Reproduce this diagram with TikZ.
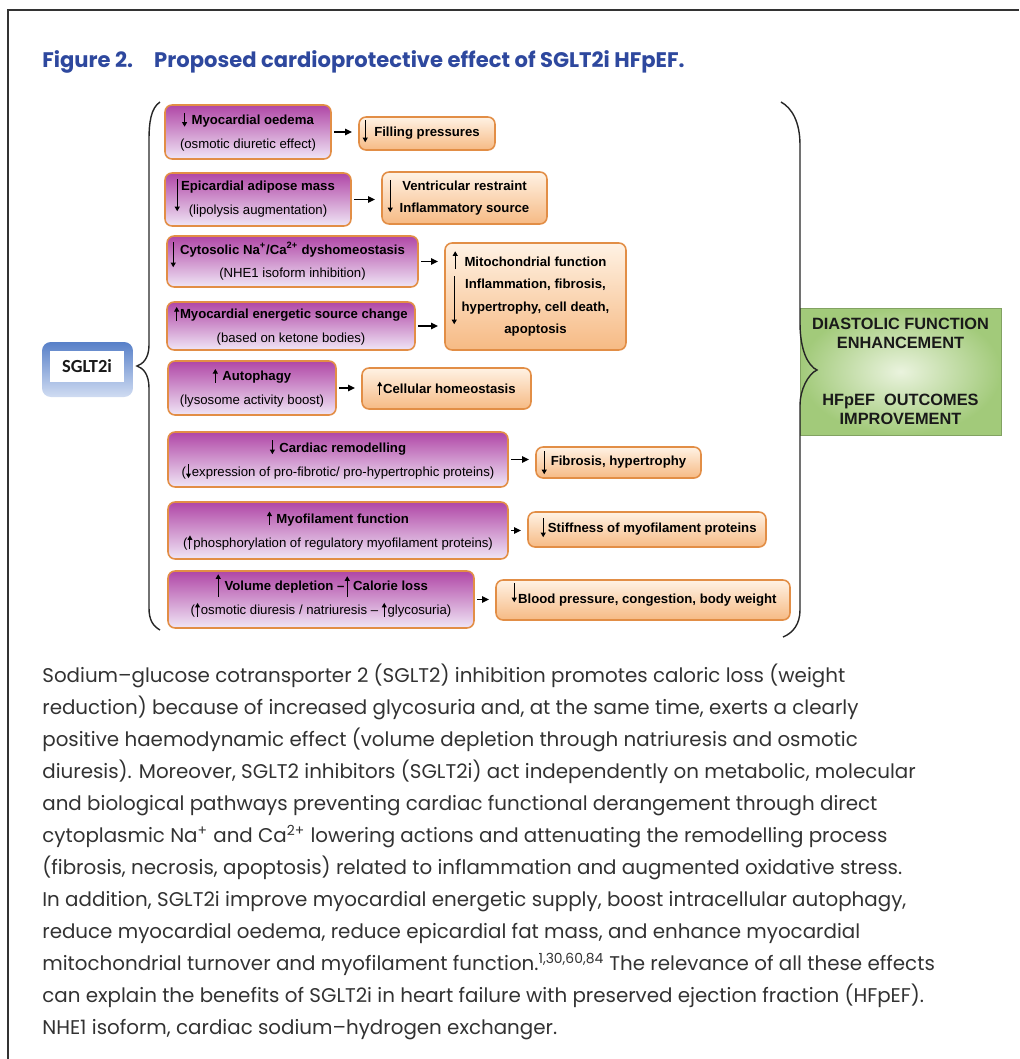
\documentclass[tikz,border=0pt]{standalone}
\usepackage{fontspec}
\setmainfont{Poppins}
\setsansfont{Liberation Sans}
\newfontfamily\calfont{Carlito}
\usepackage{xcolor}
\usetikzlibrary{arrows.meta, positioning}
\definecolor{titleblue}{RGB}{46,72,158}
\definecolor{bodygray}{RGB}{50,50,50}
\definecolor{purptop}{RGB}{176,70,166}
\definecolor{purpbot}{RGB}{240,230,246}
\definecolor{orngtop}{RGB}{255,242,228}
\definecolor{orngbot}{RGB}{246,186,132}
\definecolor{orngedge}{RGB}{226,142,70}
\definecolor{greenlite}{RGB}{234,243,222}
\definecolor{greendark}{RGB}{162,202,122}
\definecolor{blutop}{RGB}{88,128,200}
\definecolor{blubot}{RGB}{208,220,242}

\tikzset{
  glyph arrow/.style={line width=0.6pt, -{Triangle[length=2.6pt,width=2.8pt]}},
  link/.style={line width=0.8pt, -{Triangle[length=4pt,width=3.6pt]}, shorten <=1.5pt, shorten >=3.5pt},
}
\newcommand{\dnar}{\tikz[baseline=0pt]\draw[glyph arrow] (0,6.8pt) -- (0,-1pt);\kern0.5pt}
\newcommand{\upar}{\tikz[baseline=0pt]\draw[glyph arrow] (0,-1pt) -- (0,6.8pt);\kern0.5pt}

\begin{document}
\begin{tikzpicture}[x=0.02cm, y=-0.02cm,
    effect/.style={draw=orngedge, line width=0.9pt, rounded corners=4pt, top color=purptop, bottom color=purpbot, inner sep=0pt, align=center, font=\sffamily\bfseries\fontsize{7.5}{13.6}\selectfont},
    outcome/.style={draw=orngedge, line width=0.9pt, rounded corners=4pt, top color=orngtop, bottom color=orngbot, inner sep=0pt, align=center, font=\sffamily\bfseries\fontsize{7.5}{12.8}\selectfont},
    brace/.style={line width=0.8pt, black!85}]
    \useasboundingbox (0,0) rectangle (1019,1059);
    \draw[line width=1.1pt, black!80] (8,1059) -- (8,10) -- (1019,10);

    \node (title) [anchor=west, inner sep=0pt, text=titleblue, font=\bfseries\fontsize{12}{14}\selectfont] at (42,62) {Figure 2.\hspace{12pt}Proposed cardioprotective effect of SGLT2i HFpEF.};

    % left column
    \node (oedema) [effect, minimum width=3.32cm, minimum height=1.08cm] at (248,132) {\dnar\ Myocardial oedema\\\mdseries(osmotic diuretic effect)};
    \node (adipose) [effect, minimum width=3.72cm, minimum height=1.06cm] at (258,199.5) {Epicardial adipose mass\\\mdseries(lipolysis augmentation)};
    \node (cytosol) [effect, minimum width=5.02cm, minimum height=1.02cm] at (292.5,261.5) {Cytosolic Na\textsuperscript{+}/Ca\textsuperscript{2+} dyshomeostasis\\\mdseries(NHE1 isoform inhibition)};
    \node (energy) [effect, minimum width=4.96cm, minimum height=0.96cm] at (291,326) {\upar Myocardial energetic source change\\\mdseries(based on ketone bodies)};
    \node (autophagy) [effect, minimum width=3.36cm, minimum height=1.08cm] at (252,388) {\upar\ Autophagy\\\mdseries(lysosome activity boost)};
    \node (remodel) [effect, minimum width=6.80cm, minimum height=1.10cm] at (338,459.5) {\dnar\ Cardiac remodelling\\\mdseries(\dnar expression of pro-fibrotic/ pro-hypertrophic proteins)};
    \node (myofil) [effect, minimum width=6.80cm, minimum height=1.14cm] at (338,530.5) {\upar\ Myofilament function\\\mdseries(\upar phosphorylation of regulatory myofilament proteins)};
    \node (volume) [effect, minimum width=6.12cm, minimum height=1.14cm] at (321,599.5) {\hspace{6pt}Volume depletion --\hspace{5pt}Calorie loss\\\mdseries(\upar osmotic diuresis / natriuresis -- \upar glycosuria)};

    % right column
    \node (filling) [outcome, minimum width=2.72cm, minimum height=0.66cm] at (427,133.5) {Filling pressures};
    \node (restraint) [outcome, minimum width=3.30cm, minimum height=1.04cm] at (464.5,198) {Ventricular restraint\\Inflammatory source};
    \node (mito) [outcome, minimum width=3.62cm, minimum height=2.14cm] at (535.5,296.5) {Mitochondrial function\\Inflammation, fibrosis,\\hypertrophy, cell death,\\apoptosis};
    \node (homeo) [outcome, minimum width=3.38cm, minimum height=0.82cm] at (446.5,388.5) {\upar Cellular homeostasis};
    \node (fibrosis) [outcome, minimum width=3.30cm, minimum height=0.62cm] at (618.5,462.5) {Fibrosis, hypertrophy};
    \node (stiffness) [outcome, minimum width=4.76cm, minimum height=0.70cm] at (647,529.5) {\hspace{6pt}Stiffness of myofilament proteins};
    \node (pressure) [outcome, minimum width=5.88cm, minimum height=0.80cm] at (643,600) {\hspace{5pt}Blood pressure, congestion, body weight};

    % tall arrows inside boxes
    \draw[glyph arrow] ([shift={(13,7)}]adipose.north west) -- ([shift={(13,39)}]adipose.north west);
    \draw[glyph arrow] ([shift={(7,7)}]cytosol.north west) -- ([shift={(7,32)}]cytosol.north west);
    \draw[glyph arrow] ([shift={(51,27)}]volume.north west) -- ([shift={(51,4)}]volume.north west);
    \draw[glyph arrow] ([shift={(180,27)}]volume.north west) -- ([shift={(180,6)}]volume.north west);
    \draw[glyph arrow] ([shift={(7,4)}]filling.north west) -- ([shift={(7,26)}]filling.north west);
    \draw[glyph arrow] ([shift={(9,9)}]restraint.north west) -- ([shift={(9,41)}]restraint.north west);
    \draw[glyph arrow] ([shift={(11,27)}]mito.north west) -- ([shift={(11,9)}]mito.north west);
    \draw[glyph arrow] ([shift={(10,34)}]mito.north west) -- ([shift={(10,82)}]mito.north west);
    \draw[glyph arrow] ([shift={(9,5)}]fibrosis.north west) -- ([shift={(9,28)}]fibrosis.north west);
    \draw[glyph arrow] ([shift={(16,7)}]stiffness.north west) -- ([shift={(16,26)}]stiffness.north west);
    \draw[glyph arrow] ([shift={(19,4)}]pressure.north west) -- ([shift={(19,23)}]pressure.north west);

    % links
    \draw[link] (oedema.east) -- (oedema.east -| filling.west);
    \draw[link] (adipose.east) -- (adipose.east -| restraint.west);
    \draw[link] (cytosol.east) -- (cytosol.east -| mito.west);
    \draw[link] (energy.east) -- (energy.east -| mito.west);
    \draw[link] (autophagy.east) -- (autophagy.east -| homeo.west);
    \draw[link] (remodel.east) -- (remodel.east -| fibrosis.west);
    \draw[link] (myofil.east) -- (myofil.east -| stiffness.west);
    \draw[link] (volume.east) -- (volume.east -| pressure.west);

    % SGLT2i
    \node (sglt) [rounded corners=5pt, top color=blutop, bottom color=blubot, minimum width=1.82cm, minimum height=1.10cm] at (87.5,369.5) {};
    \node (sgltlabel) [fill=white, minimum width=1.48cm, minimum height=0.62cm, text=black!90, font=\calfont\bfseries\fontsize{10.5}{12}\selectfont] at (87,366.5) {SGLT2i};

    % outcomes
    \node (benefit) [draw=greendark!80!black, line width=0.4pt, inner color=greenlite, outer color=greendark, minimum width=4.02cm, minimum height=2.54cm, align=center, text=black!90, font=\sffamily\bfseries\fontsize{9.3}{10.8}\selectfont] at (900.5,371.5) {DIASTOLIC FUNCTION\\ENHANCEMENT\\[21.6pt]HFpEF\ \ OUTCOMES\\IMPROVEMENT};

    % braces
    \draw[brace] (160,102) .. controls (151,108) and (149,122) .. (149,140) -- (149,345) .. controls (149,358) and (143,364) .. (137,366) .. controls (143,368) and (149,374) .. (149,388) -- (149,608) .. controls (149,620) and (153,626) .. (160,630);
    \draw[brace] (781,102) .. controls (792,108) and (800,122) .. (800,145) -- (800,323) .. controls (800,350) and (808,366) .. (817,370) .. controls (808,374) and (800,390) .. (800,405) -- (800,610) .. controls (800,624) and (793,633) .. (783,637);

    \node (caption) [anchor=north west, inner sep=0pt, align=left, text=bodygray, font=\fontsize{11.3}{18.2}\selectfont] at (42,664) {Sodium–glucose cotransporter 2 (SGLT2) inhibition promotes caloric loss (weight\\
reduction) because of increased glycosuria and, at the same time, exerts a clearly\\
positive haemodynamic effect (volume depletion through natriuresis and osmotic\\
diuresis). Moreover, SGLT2 inhibitors (SGLT2i) act independently on metabolic, molecular\\
and biological pathways preventing cardiac functional derangement through direct\\
cytoplasmic Na\textsuperscript{+} and Ca\textsuperscript{2+} lowering actions and attenuating the remodelling process\\
(fibrosis, necrosis, apoptosis) related to inflammation and augmented oxidative stress.\\
In addition, SGLT2i improve myocardial energetic supply, boost intracellular autophagy,\\
reduce myocardial oedema, reduce epicardial fat mass, and enhance myocardial\\
mitochondrial turnover and myofilament function.\textsuperscript{1,30,60,84} The relevance of all these effects\\
can explain the benefits of SGLT2i in heart failure with preserved ejection fraction (HFpEF).\\
NHE1 isoform, cardiac sodium–hydrogen exchanger.};
\end{tikzpicture}
\end{document}
